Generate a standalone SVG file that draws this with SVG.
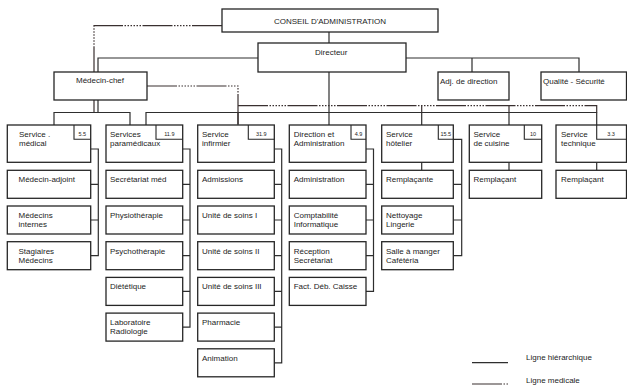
<svg xmlns="http://www.w3.org/2000/svg" width="627" height="385" viewBox="0 0 627 385">
<style>
.bg{fill:#ffffff}
.box{fill:#ffffff;stroke:#262626;stroke-width:1.3}
.nb{fill:none;stroke:#262626;stroke-width:1.1}
.h{fill:none;stroke:#2e2e2e;stroke-width:1.2}
.m{fill:none;stroke:#3a3030;stroke-width:1.2;stroke-dasharray:30 1.5 1.5 1.5 1.5 1.5 1.5 1.5 1.5 1.5 1.5 1.5 1.5 1.5}
text{font-family:"Liberation Sans",Arial,sans-serif;font-size:8px;fill:#1c1c1c}
.num{font-size:5.5px;text-anchor:middle}
</style>
<rect class="bg" x="0" y="0" width="627" height="385"/>
<g id="connectors">
  <!-- hierarchical -->
  <path class="h" d="M329,32V125"/>
  <path class="h" d="M258,58H98V112"/>
  <path class="h" d="M406,58H579V72M472,58V72"/>
  <path class="h" d="M54,125V112.5H130V125"/>
  <path class="h" d="M146,125V112.5H596.7V125M238,112.5V125M421.7,112.5V125M509,112.5V125"/>
  <!-- medical -->
  <path class="m" d="M222,25.7H94V112"/>
  <path class="m" d="M147,86H238V125"/>
  <path class="m" d="M238,105.7H596.7V112.5M421.7,105.7V112.5M509,105.7V112.5"/>
  <!-- column brackets -->
  <path class="h" d="M90.7,149H98.3V255.7H90.7M90.7,184.3H98.3M90.7,220H98.3"/>
  <path class="h" d="M182.7,149H190V327.1H182.7M182.7,184.3H190M182.7,220H190M182.7,255.7H190M182.7,291.4H190"/>
  <path class="h" d="M274.3,149H281.7V362.8H274.3M274.3,184.3H281.7M274.3,220H281.7M274.3,255.7H281.7M274.3,291.4H281.7M274.3,327.1H281.7"/>
  <path class="h" d="M366,149H373.5V291.4H366M366,184.3H373.5M366,220H373.5M366,255.7H373.5"/>
  <path class="h" d="M453.3,139.3H461.7V255.7H453.3M453.3,184.3H461.7M453.3,220H461.7"/>
  <path class="h" d="M421.7,162.3V170.3M509,162.3V170.3M596.7,162.3V170.3"/>
  <!-- legend -->
  <path class="h" d="M472,362.7H508"/>
  <path class="m" d="M472,384H508"/>
</g>
<g id="conseil"><rect class="box" x="222" y="9" width="216" height="23"/><text x="330" y="24" text-anchor="middle">CONSEIL D'ADMINISTRATION</text></g>
<g id="directeur"><rect class="box" x="258" y="43" width="148" height="29"/><text x="315" y="55">Directeur</text></g>
<g id="medecin-chef"><rect class="box" x="54" y="72" width="93" height="28"/><text x="76" y="83.3">Médecin-chef</text></g>
<g id="adj-direction"><rect class="box" x="438" y="72" width="71" height="28"/><text x="440" y="83.5">Adj. de direction</text></g>
<g id="qualite"><rect class="box" x="541" y="72" width="85.5" height="28"/><text x="543" y="83.5">Qualité - Sécurité</text></g>

<g id="service-medical"><rect class="box" x="7.3" y="125" width="83.4" height="37.3"/><path class="nb" d="M74,125V139.3H90.7"/><text class="num" x="82.3" y="136">5.5</text><text x="19" y="137">Service .</text><text x="19" y="146.3">médical</text></g>
<g id="services-paramedicaux"><rect class="box" x="106" y="125" width="76.7" height="37.3"/><path class="nb" d="M156,125V139.3H182.7"/><text class="num" x="169.3" y="136">11.9</text><text x="110" y="137">Services</text><text x="110" y="146.3">paramédicaux</text></g>
<g id="service-infirmier"><rect class="box" x="197.7" y="125" width="76.6" height="37.3"/><path class="nb" d="M248.3,125V139.3H274.3"/><text class="num" x="261.3" y="136">31.9</text><text x="202" y="137">Service</text><text x="202" y="146.3">infirmier</text></g>
<g id="direction-administration"><rect class="box" x="289.3" y="125" width="76.7" height="37.3"/><path class="nb" d="M351,125V139.3H366"/><text class="num" x="358.5" y="136">4.9</text><text x="293.7" y="137">Direction et</text><text x="293.7" y="146.3">Administration</text></g>
<g id="service-hotelier"><rect class="box" x="381.7" y="125" width="71.6" height="37.3"/><path class="nb" d="M438.3,125V139.3H453.3"/><text class="num" x="445.8" y="136">15.5</text><text x="386" y="137">Service</text><text x="386" y="146.3">hôtelier</text></g>
<g id="service-cuisine"><rect class="box" x="469.3" y="125" width="72.4" height="37.3"/><path class="nb" d="M524.3,125V139.3H541.7"/><text class="num" x="533" y="136">10</text><text x="473.5" y="137">Service</text><text x="473.5" y="146.3">de cuisine</text></g>
<g id="service-technique"><rect class="box" x="556" y="125" width="70.5" height="37.3"/><path class="nb" d="M596.7,125V139.3H626.5"/><text class="num" x="611" y="136">3.3</text><text x="561" y="137">Service</text><text x="561" y="146.3">technique</text></g>

<g id="medecin-adjoint"><rect class="box" x="7.3" y="170.3" width="83.4" height="28"/><text x="18.5" y="182.3">Médecin-adjoint</text></g>
<g id="medecins-internes"><rect class="box" x="7.3" y="206" width="83.4" height="28"/><text x="18.5" y="218">Médecins</text><text x="18.5" y="227">internes</text></g>
<g id="stagiaires-medecins"><rect class="box" x="7.3" y="241.7" width="83.4" height="28"/><text x="18.5" y="253.7">Stagiaires</text><text x="18.5" y="262.7">Médecins</text></g>

<g id="secretariat-med"><rect class="box" x="106" y="170.3" width="76.7" height="28"/><text x="110" y="182.3">Secrétariat méd</text></g>
<g id="physiotherapie"><rect class="box" x="106" y="206" width="76.7" height="28"/><text x="110" y="218">Physiothérapie</text></g>
<g id="psychotherapie"><rect class="box" x="106" y="241.7" width="76.7" height="28"/><text x="110" y="253.7">Psychothérapie</text></g>
<g id="dietetique"><rect class="box" x="106" y="277.4" width="76.7" height="28"/><text x="110" y="289.4">Diététique</text></g>
<g id="laboratoire"><rect class="box" x="106" y="313.1" width="76.7" height="28"/><text x="110" y="325.1">Laboratoire</text><text x="110" y="334.1">Radiologie</text></g>

<g id="admissions"><rect class="box" x="197.7" y="170.3" width="76.6" height="28"/><text x="202" y="182.3">Admissions</text></g>
<g id="soins-1"><rect class="box" x="197.7" y="206" width="76.6" height="28"/><text x="202" y="218">Unité de soins I</text></g>
<g id="soins-2"><rect class="box" x="197.7" y="241.7" width="76.6" height="28"/><text x="202" y="253.7">Unité de soins II</text></g>
<g id="soins-3"><rect class="box" x="197.7" y="277.4" width="76.6" height="28"/><text x="202" y="289.4">Unité de soins III</text></g>
<g id="pharmacie"><rect class="box" x="197.7" y="313.1" width="76.6" height="28"/><text x="202" y="325.1">Pharmacie</text></g>
<g id="animation"><rect class="box" x="197.7" y="348.8" width="76.6" height="28"/><text x="202" y="360.8">Animation</text></g>

<g id="administration"><rect class="box" x="289.3" y="170.3" width="76.7" height="28"/><text x="293.7" y="182.3">Administration</text></g>
<g id="comptabilite"><rect class="box" x="289.3" y="206" width="76.7" height="28"/><text x="293.7" y="218">Comptabilité</text><text x="293.7" y="227">Informatique</text></g>
<g id="reception"><rect class="box" x="289.3" y="241.7" width="76.7" height="28"/><text x="293.7" y="253.7">Réception</text><text x="293.7" y="262.7">Secrétariat</text></g>
<g id="fact"><rect class="box" x="289.3" y="277.4" width="76.7" height="28"/><text x="293.7" y="289.4">Fact. Déb. Caisse</text></g>

<g id="remplacante"><rect class="box" x="381.7" y="170.3" width="71.6" height="28"/><text x="386" y="182.3">Remplaçante</text></g>
<g id="nettoyage"><rect class="box" x="381.7" y="206" width="71.6" height="28"/><text x="386" y="218">Nettoyage</text><text x="386" y="227">Lingerie</text></g>
<g id="salle-manger"><rect class="box" x="381.7" y="241.7" width="71.6" height="28"/><text x="386" y="253.7">Salle à manger</text><text x="386" y="262.7">Cafétéria</text></g>

<g id="remplacant-cuisine"><rect class="box" x="469.3" y="170.3" width="72.4" height="28"/><text x="473.5" y="182.3">Remplaçant</text></g>
<g id="remplacant-technique"><rect class="box" x="556" y="170.3" width="70.5" height="28"/><text x="561" y="182.3">Remplaçant</text></g>

<g id="legend"><text x="526" y="360">Ligne hiérarchique</text><text x="526" y="382.5">Ligne medicale</text></g>
</svg>
